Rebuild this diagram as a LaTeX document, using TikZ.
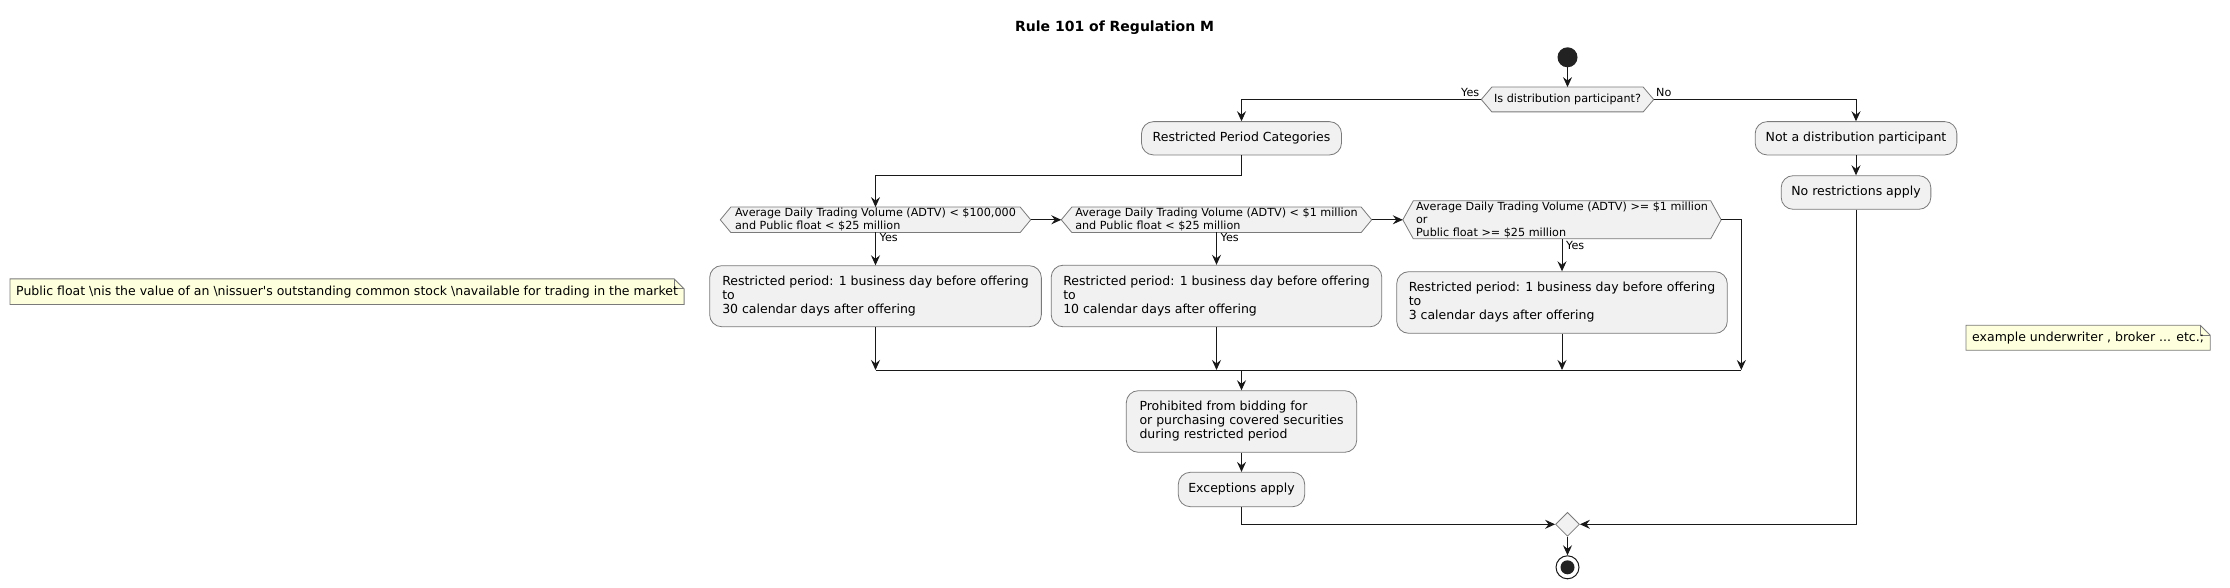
\documentclass[tikz,border=0pt]{standalone}
\usepackage{fontspec}
\setmainfont{DejaVu Sans}
\usetikzlibrary{arrows.meta,backgrounds,shapes.geometric}
\definecolor{boxfill}{HTML}{F1F1F1}
\definecolor{boxborder}{HTML}{7A7A7A}
\definecolor{lineclr}{HTML}{181818}
\definecolor{notefill}{HTML}{FEFFDD}
\definecolor{dotclr}{HTML}{222222}
\newcommand{\actfont}{\fontsize{12.5pt}{14pt}\selectfont}
\newcommand{\decfont}{\fontsize{11.2pt}{13pt}\selectfont}
\newcommand{\ttlfont}{\fontsize{14pt}{16pt}\selectfont\bfseries}
\begin{document}
\begin{tikzpicture}[x=1pt,y=-1pt,
  act/.style={draw=boxborder, fill=boxfill, rounded corners=12pt, line width=0.8pt, align=left, font=\actfont, inner xsep=10pt, inner ysep=0pt},
  dec/.style={align=left, font=\decfont, inner xsep=2pt, inner ysep=0pt},
  hexshape/.style={draw=boxborder, fill=boxfill, line width=0.8pt},
  notest/.style={align=left, font=\actfont, inner xsep=6pt, inner ysep=0pt},
  noteshape/.style={draw=boxborder, fill=notefill, line width=0.8pt},
  conn/.style={draw=lineclr, line width=1pt, -{Stealth[length=10pt,width=9pt,inset=3.5pt]}},
  plain/.style={draw=lineclr, line width=1pt},
  lbl/.style={font=\decfont, inner sep=0pt},
  startst/.style={circle, fill=dotclr, minimum size=20pt, inner sep=0pt},
  mergest/.style={diamond, draw=boxborder, fill=boxfill, line width=0.8pt, minimum width=24pt, minimum height=24pt, inner sep=0pt},
  stopst/.style={circle, draw=lineclr, fill=white, line width=1pt, minimum size=23pt, inner sep=0pt},
  stopin/.style={circle, fill=dotclr, minimum size=14pt, inner sep=0pt},
  ttl/.style={font=\ttlfont, inner sep=0pt}]
\useasboundingbox (0,0) rectangle (2230,588);
\begin{scope}[on background layer]
\fill[white] (0,0) rectangle (2230,588);
\end{scope}

\node[ttl] (title) at (1114.6,28) {Rule 101 of Regulation M};
\node[startst] (start) at (1567.5,57.3) {};
\node[dec, minimum width=151pt, minimum height=24.4pt] (d0) at (1567.5,99.5) {Is distribution participant?};
\node[act, minimum width=200pt, minimum height=33.3pt] (rpc) at (1241.5,138.3) {Restricted Period Categories};
\node[act, minimum width=201.7pt, minimum height=33.3pt] (ndp) at (1856,138.3) {Not a distribution participant};
\node[act, minimum width=149.7pt, minimum height=33.6pt] (nra) at (1856,192.5) {No restrictions apply};
\node[dec, minimum width=289pt, minimum height=25pt] (d1) at (875.5,219.8) {Average Daily Trading Volume (ADTV) < \$100,000\\and Public float < \$25 million};
\node[dec, minimum width=289pt, minimum height=25pt] (d2) at (1216.5,219.8) {Average Daily Trading Volume (ADTV) < \$1 million\\and Public float < \$25 million};
\node[dec, minimum width=297pt, minimum height=37.6pt] (d3) at (1562,219.8) {Average Daily Trading Volume (ADTV) >= \$1 million\\or\\Public float >= \$25 million};
\node[act, minimum width=331.7pt, minimum height=61pt] (b1) at (875.5,296.2) {Restricted period: 1 business day before offering\\to\\30 calendar days after offering};
\node[act, minimum width=330.6pt, minimum height=61.6pt] (b2) at (1216.5,296) {Restricted period: 1 business day before offering\\to\\10 calendar days after offering};
\node[act, minimum width=330.6pt, minimum height=61.6pt] (b3) at (1562,302.5) {Restricted period: 1 business day before offering\\to\\3 calendar days after offering};
\node[act, minimum width=230.4pt, minimum height=61.6pt] (prh) at (1241.5,421.5) {Prohibited from bidding for\\or purchasing covered securities\\during restricted period};
\node[act, minimum width=125pt, minimum height=34.4pt] (exc) at (1241.5,489.5) {Exceptions apply};
\node[mergest] (m) at (1567.5,524.3) {};
\node[stopst] (stop) at (1567.5,567.3) {};
\node[stopin] (stopdot) at (stop.center) {};
\node[notest, anchor=west, minimum height=25.3pt] (nl) at (10,291.7) {Public float \textbackslash nis the value of an \textbackslash nissuer\textquotesingle s outstanding common stock \textbackslash navailable for trading in the market};
\node[notest, anchor=west, minimum height=24.7pt] (nr) at (1966,337.7) {example underwriter , broker ... etc.;};

\begin{scope}[on background layer]
\foreach \n in {d0,d1,d2,d3}{
  \draw[hexshape] ([xshift=-10.5pt]\n.west) -- (\n.north west) -- (\n.north east) -- ([xshift=10.5pt]\n.east) -- (\n.south east) -- (\n.south west) -- cycle;
}
\foreach \n in {nl,nr}{
  \draw[noteshape] (\n.north west) -- ([xshift=-10pt]\n.north east) -- ([yshift=-10pt]\n.north east) -- (\n.south east) -- (\n.south west) -- cycle;
  \draw[noteshape, fill=none] ([xshift=-10pt]\n.north east) |- ([yshift=-10pt]\n.north east);
}
\end{scope}

\coordinate (d0l) at ([xshift=-10.5pt]d0.west);
\coordinate (d0r) at ([xshift=10.5pt]d0.east);
\coordinate (d1r) at ([xshift=10.5pt]d1.east);
\coordinate (d2l) at ([xshift=-10.5pt]d2.west);
\coordinate (d2r) at ([xshift=10.5pt]d2.east);
\coordinate (d3l) at ([xshift=-10.5pt]d3.west);
\coordinate (d3r) at ([xshift=10.5pt]d3.east);
\coordinate (mL) at (875.5,370);
\coordinate (mR) at (1741.3,370);

\draw[conn] (start) -- (d0.north);
\draw[conn] (d0l) -| (rpc.north);
\draw[conn] (d0r) -| (ndp.north);
\draw[conn] (ndp) -- (nra);
\draw[conn] (rpc.south) -- ++(0,20) -| (d1.north);
\draw[conn] (d1r) -- (d2l);
\draw[conn] (d2r) -- (d3l);
\draw[conn] (d1.south) -- (b1.north);
\draw[conn] (d2.south) -- (b2.north);
\draw[conn] (d3.south) -- (b3.north);
\draw[plain] (mL) -- (mR);
\draw[conn] (b1.south) -- (b1.south |- mL);
\draw[conn] (b2.south) -- (b2.south |- mL);
\draw[conn] (b3.south) -- (b3.south |- mL);
\draw[conn] (d3r) -| (mR);
\draw[conn] (prh.north |- mL) -- (prh.north);
\draw[conn] (prh) -- (exc);
\draw[conn] (exc.south) |- (m.west);
\draw[conn] (nra.south) |- (m.east);
\draw[conn] (m.south) -- (stop.north);

\node[lbl, anchor=base east] (lyes0) at (1479.5,96.7) {Yes};
\node[lbl, anchor=base west] (lno0) at (1656,96.7) {No};
\node[lbl, anchor=base west] (lyes1) at (879.5,242) {Yes};
\node[lbl, anchor=base west] (lyes2) at (1220.5,242) {Yes};
\node[lbl, anchor=base west] (lyes3) at (1566,249.5) {Yes};
\end{tikzpicture}
\end{document}
